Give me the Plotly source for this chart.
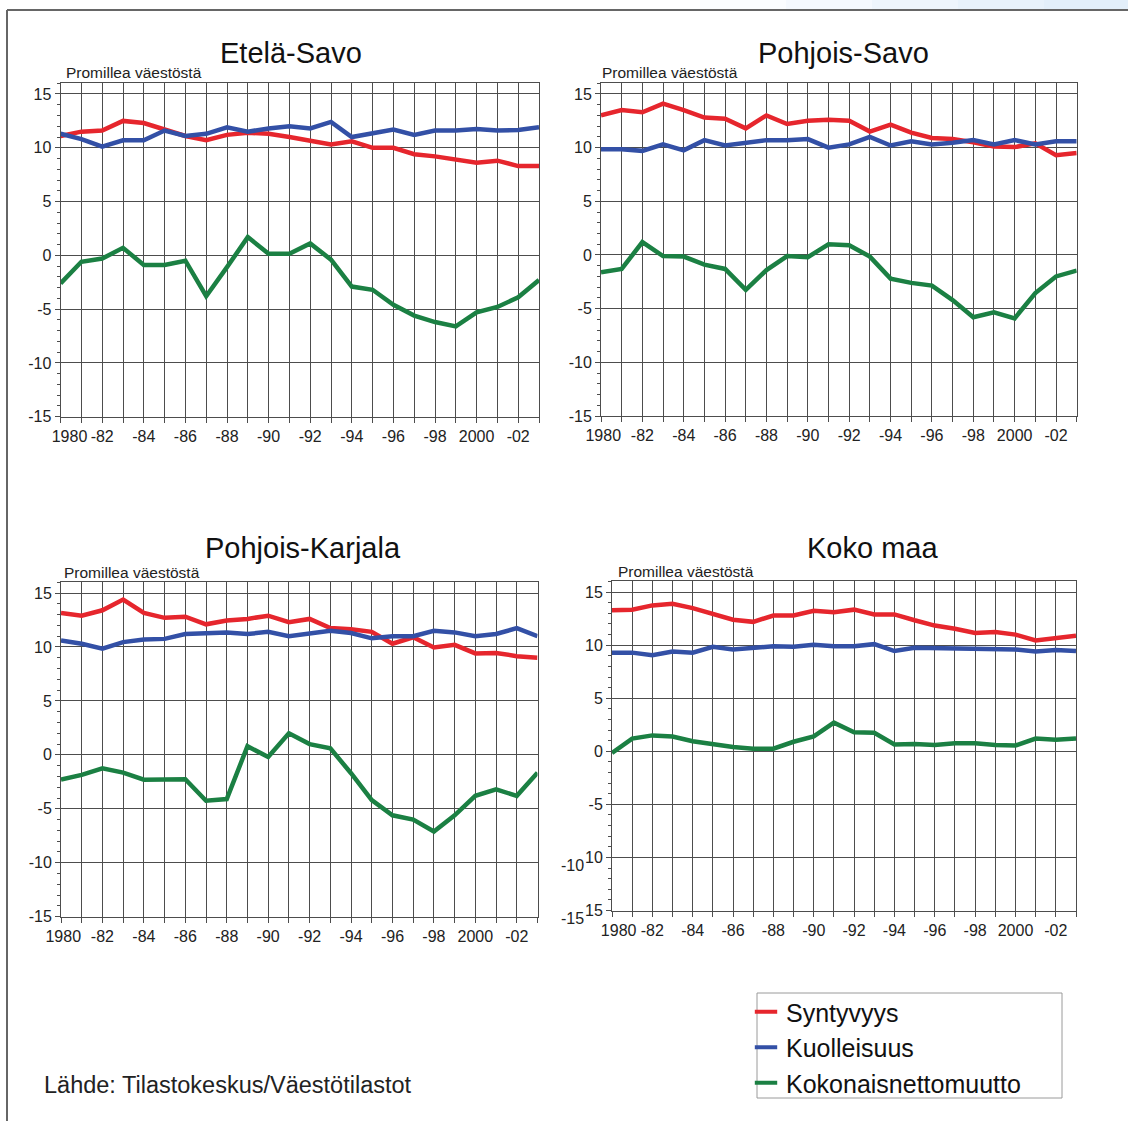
import plotly.graph_objects as go

W, H = 1128, 1121

years = list(range(1980, 2004))

# Etelä-Savo
es_syntyvyys = [11.1, 11.5, 11.6, 12.5, 12.3, 11.7, 11.1, 10.7, 11.2, 11.4, 11.3, 11.0,
                10.7, 10.3, 10.6, 10.0, 10.0, 9.4, 9.2, 8.9, 8.6, 8.8, 8.3, 8.3]
es_kuolleisuus = [11.3, 10.8, 10.1, 10.7, 10.7, 11.6, 11.1, 11.3, 11.9, 11.5, 11.8, 12.0,
                  11.8, 12.4, 11.0, 11.4, 11.7, 11.2, 11.6, 11.6, 11.75, 11.6, 11.65, 11.9]
es_nettomuutto = [-2.6, -0.6, -0.3, 0.7, -0.9, -0.9, -0.5, -3.8, -1.1, 1.7, 0.15, 0.15,
                  1.1, -0.4, -2.9, -3.2, -4.6, -5.6, -6.2, -6.6, -5.3, -4.8, -3.9, -2.3]

# Pohjois-Savo
ps_syntyvyys = [13.0, 13.5, 13.3, 14.1, 13.5, 12.8, 12.7, 11.8, 13.0, 12.2, 12.5, 12.6,
                12.5, 11.5, 12.15, 11.4, 10.9, 10.8, 10.5, 10.1, 10.05, 10.4, 9.3, 9.5]
ps_kuolleisuus = [9.85, 9.85, 9.7, 10.3, 9.75, 10.7, 10.2, 10.4, 10.7, 10.7, 10.8, 10.0,
                  10.3, 11.0, 10.2, 10.6, 10.3, 10.45, 10.7, 10.3, 10.7, 10.3, 10.6, 10.6]
ps_nettomuutto = [-1.6, -1.3, 1.2, -0.1, -0.15, -0.9, -1.3, -3.25, -1.4, -0.1, -0.2, 1.0,
                  0.9, -0.15, -2.2, -2.6, -2.85, -4.2, -5.8, -5.35, -5.9, -3.55, -2.0, -1.45]

# Pohjois-Karjala
pk_syntyvyys = [13.15, 12.9, 13.4, 14.4, 13.15, 12.7, 12.8, 12.1, 12.45, 12.6, 12.9, 12.3,
                12.6, 11.75, 11.65, 11.4, 10.3, 10.9, 9.95, 10.2, 9.4, 9.45, 9.15, 9.0]
pk_kuolleisuus = [10.6, 10.3, 9.85, 10.45, 10.7, 10.75, 11.2, 11.3, 11.35, 11.2, 11.4, 11.0,
                  11.2, 11.5, 11.3, 10.8, 11.0, 11.0, 11.5, 11.35, 11.0, 11.2, 11.75, 11.0]
pk_nettomuutto = [-2.3, -1.85, -1.25, -1.65, -2.3, -2.3, -2.25, -4.25, -4.1, 0.8, -0.2, 2.0,
                  1.0, 0.6, -1.7, -4.2, -5.6, -6.0, -7.1, -5.6, -3.8, -3.2, -3.8, -1.65]

# Koko maa
km_syntyvyys = [13.3, 13.35, 13.75, 13.9, 13.5, 12.95, 12.4, 12.2, 12.8, 12.8, 13.25, 13.1,
                13.35, 12.9, 12.9, 12.35, 11.85, 11.55, 11.15, 11.25, 11.0, 10.45, 10.7, 10.9]
km_kuolleisuus = [9.3, 9.3, 9.05, 9.4, 9.3, 9.85, 9.6, 9.75, 9.9, 9.85, 10.05, 9.9,
                  9.9, 10.1, 9.45, 9.75, 9.7, 9.7, 9.7, 9.6, 9.6, 9.4, 9.55, 9.45]
km_nettomuutto = [-0.15, 1.2, 1.5, 1.4, 0.95, 0.65, 0.4, 0.25, 0.25, 0.9, 1.4, 2.7,
                  1.8, 1.75, 0.65, 0.7, 0.6, 0.75, 0.75, 0.6, 0.55, 1.2, 1.1, 1.2]

series_names = ["Syntyvyys", "Kuolleisuus", "Kokonaisnettomuutto"]
colors = ["#e6262d", "#3350a6", "#1b8043"]

panel_titles = ["Etelä-Savo", "Pohjois-Savo", "Pohjois-Karjala", "Koko maa"]
panel_data = [
    [es_syntyvyys, es_kuolleisuus, es_nettomuutto],
    [ps_syntyvyys, ps_kuolleisuus, ps_nettomuutto],
    [pk_syntyvyys, pk_kuolleisuus, pk_nettomuutto],
    [km_syntyvyys, km_kuolleisuus, km_nettomuutto],
]
y_tickvals = [-15, -10, -5, 0, 5, 10, 15]
y_ticktext_std = ["-15", "-10", "-5", "0", "5", "10", "15"]
y_ticktext_koko = ["15", "10", "-5", "0", "5", "10", "15"]
unit_label = "Promillea väestöstä"
source_text = "Lähde: Tilastokeskus/Väestötilastot"

FONT = "Liberation Sans, Arial, sans-serif"
GRID = "#4d4d4d"


def px(x):
    return x / W


def py(y):
    return 1 - y / H


# pixel geometry of plot areas: (left, right, top, bottom)
boxes = [(60.6, 539.0, 82.7, 416.7), (601.0, 1076.7, 82.7, 416.0),
         (61.0, 537.5, 581.7, 916.7), (612.0, 1076.0, 581.0, 910.5)]
first_label_pad = [4, 1, 1, 3]
title_pos = [(291, 53), (843, 53), (303, 548), (872, 548)]
unit_pos = [(64, 72), (600, 72), (62, 572), (616, 571)]

fig = go.Figure()

for i, (title, data) in enumerate(zip(panel_titles, panel_data)):
    n = "" if i == 0 else str(i + 1)
    for j, (name, vals) in enumerate(zip(series_names, data)):
        fig.add_trace(go.Scatter(
            x=years, y=vals, mode="lines", name=name,
            line=dict(color=colors[j], width=4.5),
            xaxis="x" + n, yaxis="y" + n, showlegend=False,
        ))
    l, r, t, b = boxes[i]
    xt = []
    for yv in years:
        if yv == 1980:
            xt.append("\u00a0" * first_label_pad[i] + "1980")
        elif yv % 2:
            xt.append("")
        elif yv == 2000:
            xt.append("2000")
        else:
            xt.append("-%02d" % (yv % 100))
    fig.layout["xaxis" + n] = dict(
        domain=[px(l), px(r)], range=[1980, 2003], anchor="y" + n,
        tickvals=years, ticktext=xt, ticks="outside", ticklen=5, tickcolor=GRID,
        showgrid=True, gridcolor=GRID, gridwidth=1,
        showline=True, linecolor=GRID, linewidth=1, mirror=True,
        zeroline=False, tickfont=dict(family=FONT, size=16, color="#222"),
        fixedrange=True, automargin=False,
    )
    fig.layout["yaxis" + n] = dict(
        domain=[py(b), py(t)], range=[-15, 16.05], anchor="x" + n,
        tickvals=y_tickvals,
        ticktext=y_ticktext_koko if i == 3 else y_ticktext_std,
        ticks="outside", ticklen=5, tickcolor=GRID,
        minor=dict(dtick=1, tick0=0, ticks="outside", ticklen=3, tickcolor=GRID, showgrid=False),
        showgrid=True, gridcolor=GRID, gridwidth=1,
        showline=True, linecolor=GRID, linewidth=1, mirror=True,
        zeroline=False, tickfont=dict(family=FONT, size=16, color="#222"),
        fixedrange=True, automargin=False,
    )
    fig.add_annotation(x=px(title_pos[i][0]), y=py(title_pos[i][1]), xref="paper", yref="paper",
                       text=title, showarrow=False, xanchor="center", yanchor="middle",
                       font=dict(family=FONT, size=29, color="#111"))
    fig.add_annotation(x=px(unit_pos[i][0]), y=py(unit_pos[i][1]), xref="paper", yref="paper",
                       text=unit_label, showarrow=False, xanchor="left", yanchor="middle",
                       font=dict(family=FONT, size=15.5, color="#222"))

# overlapping extra labels on the Koko maa axis
for val in (-10, -15):
    fig.add_annotation(x=px(586), y=val, xref="paper", yref="y4", yshift=-8,
                       text=str(val), showarrow=False, xanchor="right", yanchor="middle",
                       font=dict(family=FONT, size=16, color="#222"))

# legend entries
for j, name in enumerate(series_names):
    fig.add_trace(go.Scatter(
        x=[None], y=[None], mode="markers", name=name, legendgroup=name,
        marker=dict(symbol="line-ew", size=16, color=colors[j],
                    line=dict(color=colors[j], width=4)),
        xaxis="x", yaxis="y", showlegend=True,
    ))

fig.add_annotation(x=px(42), y=py(1085), xref="paper", yref="paper", text=source_text,
                   showarrow=False, xanchor="left", yanchor="middle",
                   font=dict(family=FONT, size=23.5, color="#222"))

shapes = [
    dict(type="rect", xref="paper", yref="paper", x0=px(757), x1=px(1062), y0=py(1098), y1=py(993),
         line=dict(color="#9a9a9a", width=1), fillcolor="rgba(0,0,0,0)"),
    dict(type="line", xref="paper", yref="paper", x0=px(7), x1=px(7), y0=0, y1=py(10),
         line=dict(color="#666", width=2)),
    dict(type="line", xref="paper", yref="paper", x0=px(7), x1=1, y0=py(10), y1=py(10),
         line=dict(color="#666", width=2)),
]
strip = ["#fbfdff", "#f5f9fe", "#eef5fc", "#e8f2fb", "#e3effa"]
for k, c in enumerate(strip):
    x0 = 700 + k * 86
    shapes.append(dict(type="rect", xref="paper", yref="paper", x0=px(x0), x1=px(min(x0 + 86, W)),
                       y0=py(9), y1=1, line=dict(width=0), fillcolor=c, layer="below"))

fig.update_layout(
    width=W, height=H, margin=dict(l=0, r=0, t=0, b=0, pad=0, autoexpand=False),
    paper_bgcolor="white", plot_bgcolor="white",
    shapes=shapes,
    showlegend=True,
    legend=dict(x=px(746), y=py(989), xanchor="left", yanchor="top",
                bgcolor="rgba(0,0,0,0)", borderwidth=0, tracegroupgap=0,
                font=dict(family=FONT, size=25, color="#111"), itemclick=False),
)

fig.write_html("out.html", config={"displayModeBar": False},
               post_script="document.body.style.margin='0';")
